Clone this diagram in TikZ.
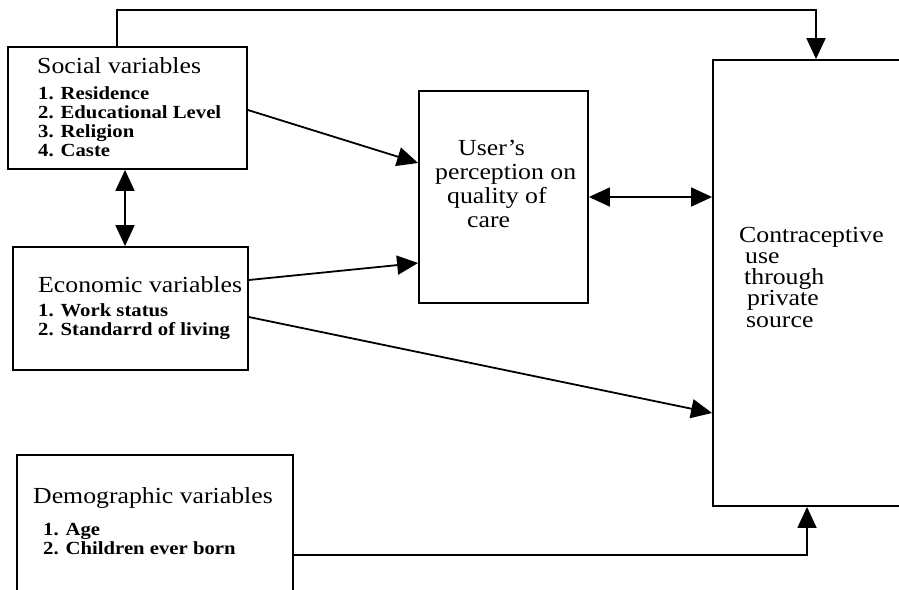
\documentclass[tikz,border=0pt]{standalone}
\usepackage{fontspec}
\setmainfont[FakeStretch=1.12]{Liberation Serif}
\usetikzlibrary{arrows.meta}
\begin{document}
\begin{tikzpicture}[x=1pt,y=-1pt,
  box/.style={draw, line width=1.8pt, inner sep=0pt},
  head/.style={anchor=base west, inner sep=0pt, font=\fontsize{23}{23}\selectfont},
  item/.style={anchor=base west, inner sep=0pt, font=\fontsize{18.5}{18.5}\selectfont\bfseries},
  conn/.style={line width=1.8pt, -{Triangle[length=21pt,width=19pt]}},
  conn2/.style={line width=1.8pt, {Triangle[length=21pt,width=19pt]}-{Triangle[length=21pt,width=19pt]}}]
\useasboundingbox (0,0) rectangle (899,589);
\clip (0,0) rectangle (899,589);
% boxes
\node[box, minimum width=239pt, minimum height=122pt] (social) at (127.5,108) {};
\node[box, minimum width=235pt, minimum height=123pt] (econ) at (130.5,308.5) {};
\node[box, minimum width=276pt, minimum height=165pt] (demo) at (155,537.5) {};
\node[box, minimum width=169pt, minimum height=212pt] (percep) at (503.5,197) {};
\node[box, minimum width=237pt, minimum height=446pt] (contra) at (831.5,283) {};
% texts
\node[head] (sh) at (37,73) {Social variables};
\node[item] (s1) at (38,99) {1. Residence};
\node[item] (s2) at (38,118) {2. Educational Level};
\node[item] (s3) at (38,137) {3. Religion};
\node[item] (s4) at (38,156) {4. Caste};
\node[head] (eh) at (38,292) {Economic variables};
\node[item] (e1) at (38,316) {1. Work status};
\node[item] (e2) at (38,335) {2. Standarrd of living};
\node[head] (dh) at (33,503) {Demographic variables};
\node[item] (d1) at (43,535) {1. Age};
\node[item] (d2) at (43,554) {2. Children ever born};
\node[head] (p1) at (458,155) {User’s};
\node[head] (p2) at (435,179) {perception on};
\node[head] (p3) at (447,203) {quality of};
\node[head] (p4) at (467,227) {care};
\node[head] (c1) at (739,242) {Contraceptive};
\node[head] (c2) at (745,263) {use};
\node[head] (c3) at (744,284) {through};
\node[head] (c4) at (747,305) {private};
\node[head] (c5) at (746,327) {source};
% helper coordinates
\coordinate (topL) at (117,10);
\coordinate (topR) at (816,10);
\coordinate (se) at (125,0);
\coordinate (ys1) at (0,110);
\coordinate (yp1) at (0,163);
\coordinate (ye1) at (0,280);
\coordinate (yp2) at (0,263);
\coordinate (ye2) at (0,317);
\coordinate (yc1) at (0,413);
\coordinate (yd) at (0,555);
\coordinate (bend) at (807,555);
% connectors
\draw[conn] (social.north -| topL) -- (topL) -- (topR) -- (contra.north -| topR);
\draw[conn2] (social.south -| se) -- (econ.north -| se);
\draw[conn] (social.east |- ys1) -- (percep.west |- yp1);
\draw[conn] (econ.east |- ye1) -- (percep.west |- yp2);
\draw[conn2] (percep.east) -- (contra.west |- percep.east);
\draw[conn] (econ.east |- ye2) -- (contra.west |- yc1);
\draw[conn] (demo.east |- yd) -- (bend) -- (contra.south -| bend);
\end{tikzpicture}
\end{document}
